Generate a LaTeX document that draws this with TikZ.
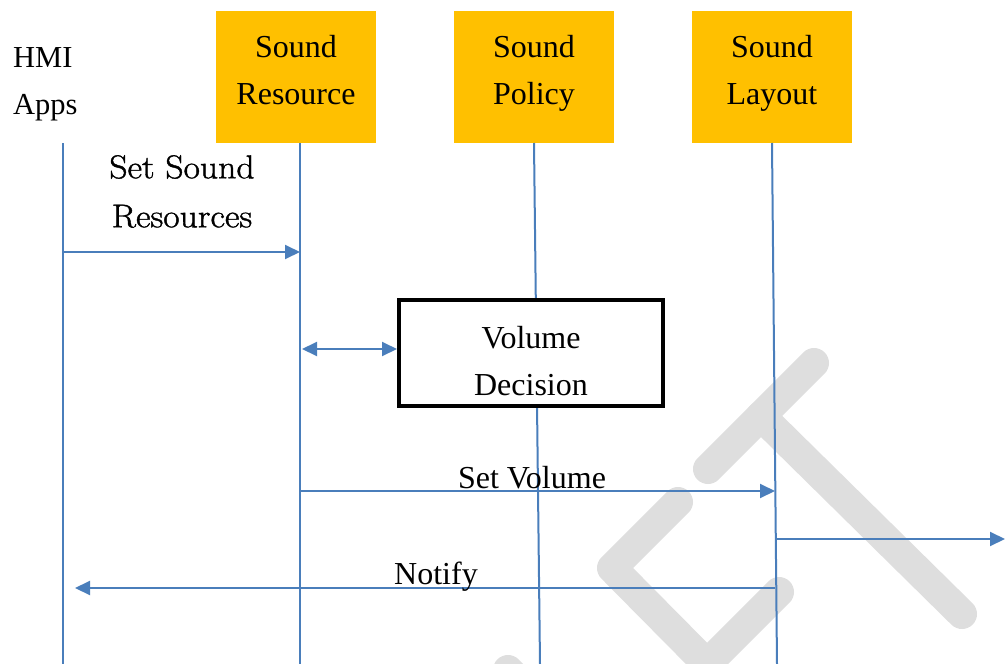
\documentclass[tikz,border=0pt]{standalone}
\usepackage{fontspec}
\setmainfont{Liberation Serif}
\newfontfamily\lmfont[FakeStretch=1.08,FakeBold=1.2]{Latin Modern Roman}
\usetikzlibrary{arrows.meta}
\definecolor{lifeblue}{RGB}{74,126,187}
\definecolor{hdrgold}{RGB}{255,192,0}
\definecolor{wmgray}{RGB}{222,222,222}
\begin{document}
\begin{tikzpicture}[x=1pt,y=-1pt,
  hdrbox/.style={rectangle,fill=hdrgold,minimum width=160pt,minimum height=132pt,inner sep=0pt},
  txt/.style={inner sep=0pt,align=center,font=\fontsize{32}{47}\selectfont},
  life/.style={draw=lifeblue,line width=2pt},
  msg/.style={draw=lifeblue,line width=2pt,-{Triangle[length=15pt,width=14pt]}},
  dmsg/.style={draw=lifeblue,line width=2pt,{Triangle[length=15pt,width=14pt]}-{Triangle[length=15pt,width=14pt]}},
  wm/.style={draw=wmgray,line width=30pt,line cap=round,line join=round},
  decbox/.style={rectangle,draw=black,fill=white,line width=4pt,minimum width=264pt,minimum height=106pt,inner sep=0pt}]
\useasboundingbox (0,0) rectangle (1005,664);
% watermark
\begin{scope}
\clip (0,0) rectangle (1005,664);
\draw[wm] (814,363) -- (708,469);
\draw[wm] (761,416) -- (962,614);
\draw[wm] (678,502) -- (612,568) -- (707,664) -- (779,592);
\draw[wm] (508,670) -- (560,722);
\end{scope}
% headers
\node[txt,align=left,anchor=north west,font=\fontsize{30.5}{47}\selectfont] (hmi) at (13,47) {HMI\\Apps};
\node[hdrbox] (sres) at (296,77) {};
\node[txt,anchor=north] (sres-t) at (296,35) {Sound\\Resource};
\node[hdrbox] (spol) at (534,77) {};
\node[txt,anchor=north] (spol-t) at (534,35) {Sound\\Policy};
\node[hdrbox] (slay) at (772,77) {};
\node[txt,anchor=north] (slay-t) at (772,35) {Sound\\Layout};
% lifelines
\coordinate (hmi-top) at (63,143);
\coordinate (hmi-bot) at (63,664);
\coordinate (sres-top) at (300,143);
\coordinate (sres-bot) at (300,664);
\coordinate (spol-top) at (534,143);
\coordinate (spol-bot) at (540,664);
\coordinate (slay-top) at (772,143);
\coordinate (slay-bot) at (777,664);
\draw[life] (hmi-top) -- (hmi-bot);
\draw[life] (sres-top) -- (sres-bot);
\draw[life] (spol-top) -- (spol-bot);
\draw[life] (slay-top) -- (slay-bot);
% volume decision
\node[decbox] (vd) at (531,353) {};
\node[txt,anchor=north] (vd-t) at (531,326) {Volume\\Decision};
% messages
\coordinate (m1s) at (63,252);
\coordinate (m1e) at (300,252);
\draw[msg] (m1s) -- (m1e);
\node[inner sep=0pt,align=center,anchor=north,font=\lmfont\fontsize{33}{49}\selectfont] (m1l) at (182,155) {Set Sound\\Resources};
\coordinate (m2s) at (302,349);
\draw[dmsg] (m2s) -- (vd.west |- m2s);
\coordinate (m3s) at (300,491);
\coordinate (m3e) at (775,491);
\draw[msg] (m3s) -- (m3e);
\node[txt,anchor=base] (m3l) at (532,488) {Set Volume};
\coordinate (m4s) at (776,539);
\coordinate (m4e) at (1005,539);
\draw[msg] (m4s) -- (m4e);
\coordinate (m5s) at (775,588);
\coordinate (m5e) at (75,588);
\draw[msg] (m5s) -- (m5e);
\node[txt,anchor=base] (m5l) at (436,584) {Notify};
\end{tikzpicture}
\end{document}
